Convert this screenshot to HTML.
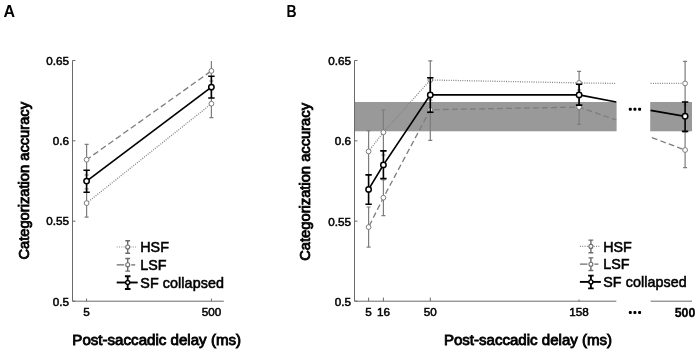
<!DOCTYPE html>
<html><head><meta charset="utf-8"><title>Figure</title>
<style>
html,body{margin:0;padding:0;background:#fff;}
body{width:700px;height:354px;overflow:hidden;font-family:"Liberation Sans",sans-serif;}
svg{display:block;will-change:transform;}
text{font-family:"Liberation Sans",sans-serif;fill:#000;}
.tk{font-size:11.7px;stroke:#000;stroke-width:0.5px;}
.lg{font-size:14.3px;stroke:#000;stroke-width:0.55px;}
.ax{font-size:14.1px;stroke:#000;stroke-width:0.8px;}
.pn{font-size:17.2px;font-weight:bold;}
</style></head><body>
<svg width="700" height="354" viewBox="0 0 700 354">
<rect width="700" height="354" fill="#fff"/>

<text class="pn" transform="translate(3.6 16.8) scale(0.93 1)">A</text>
<path d="M72.5 60.5V301.2H223.8" stroke="#6a6a6a" stroke-width="1" fill="none"/>
<path d="M72.5 60.50H75.5" stroke="#6a6a6a" stroke-width="1"/>
<text class="tk" x="69" y="64.6" text-anchor="end">0.65</text>
<path d="M72.5 140.83H75.5" stroke="#6a6a6a" stroke-width="1"/>
<text class="tk" x="69" y="144.9" text-anchor="end">0.6</text>
<path d="M72.5 221.17H75.5" stroke="#6a6a6a" stroke-width="1"/>
<text class="tk" x="69" y="225.3" text-anchor="end">0.55</text>
<path d="M72.5 301.20H75.5" stroke="#6a6a6a" stroke-width="1"/>
<text class="tk" x="69" y="305.6" text-anchor="end">0.5</text>
<path d="M86.6 301.2V298.6" stroke="#6a6a6a" stroke-width="1"/>
<text class="tk" x="86.6" y="316" text-anchor="middle">5</text>
<path d="M211.4 301.2V298.6" stroke="#6a6a6a" stroke-width="1"/>
<text class="tk" x="211.4" y="316" text-anchor="middle">500</text>
<text class="ax" transform="translate(28.8 259.6) rotate(-90)" textLength="157.6" lengthAdjust="spacingAndGlyphs">Categorization accuracy</text>
<text class="ax" x="72.3" y="345.3" textLength="168.8" lengthAdjust="spacingAndGlyphs">Post-saccadic delay (ms)</text>
<path d="M86.6 203.1L211.4 103.7" stroke="#858585" stroke-width="1.3" stroke-dasharray="1 1.3" fill="none"/>
<path d="M86.6 159.7L211.4 70.9" stroke="#7d7d7d" stroke-width="1.3" stroke-dasharray="6 3.2" stroke-dashoffset="0.9" fill="none"/>
<path d="M86.6 189.0V217.1M84.6 189.0H88.6M84.6 217.1H88.6" stroke="#7d7d7d" stroke-width="1.2" fill="none"/>
<path d="M86.6 144.3V175.0M84.6 144.3H88.6M84.6 175.0H88.6" stroke="#7d7d7d" stroke-width="1.2" fill="none"/>
<path d="M211.4 90.0V117.7M209.4 90.0H213.4M209.4 117.7H213.4" stroke="#7d7d7d" stroke-width="1.2" fill="none"/>
<path d="M211.4 60.9V81.0M209.4 81.0H213.4" stroke="#7d7d7d" stroke-width="1.2" fill="none"/>
<circle cx="86.6" cy="203.1" r="2.4" fill="#fff" stroke="#7d7d7d" stroke-width="1"/>
<circle cx="86.6" cy="159.7" r="2.4" fill="#fff" stroke="#7d7d7d" stroke-width="1"/>
<circle cx="211.4" cy="103.7" r="2.4" fill="#fff" stroke="#7d7d7d" stroke-width="1"/>
<circle cx="211.4" cy="70.9" r="2.4" fill="#fff" stroke="#7d7d7d" stroke-width="1"/>
<path d="M86.6 181.1L211.4 87.1" stroke="#000" stroke-width="1.7" fill="none"/>
<path d="M86.6 170.3V192.3M83.39999999999999 170.3H89.8M83.39999999999999 192.3H89.8" stroke="#000" stroke-width="1.6" fill="none"/>
<circle cx="86.6" cy="181.1" r="2.7" fill="#fff" stroke="#000" stroke-width="1.5"/>
<path d="M211.4 76.3V98.0M208.20000000000002 76.3H214.6M208.20000000000002 98.0H214.6" stroke="#000" stroke-width="1.6" fill="none"/>
<circle cx="211.4" cy="87.1" r="2.7" fill="#fff" stroke="#000" stroke-width="1.5"/>
<path d="M116.7 247.0H137.2" stroke="#8a8a8a" stroke-width="1.2" stroke-dasharray="1 1.3"/>
<path d="M127.7 240.7V253.3M125.3 240.7H130.1M125.3 253.3H130.1" stroke="#6c6c6c" stroke-width="1.4" fill="none"/>
<circle cx="127.7" cy="247.0" r="2.0" fill="#fff" stroke="#6c6c6c" stroke-width="1.1"/>
<path d="M116.7 264.8H124.2M131.2 264.8H135.2" stroke="#6c6c6c" stroke-width="1.3"/>
<path d="M127.7 258.5V271.1M125.3 258.5H130.1M125.3 271.1H130.1" stroke="#6c6c6c" stroke-width="1.4" fill="none"/>
<circle cx="127.7" cy="264.8" r="2.0" fill="#fff" stroke="#6c6c6c" stroke-width="1.1"/>
<path d="M116.7 282.5H137.7" stroke="#000" stroke-width="1.9"/>
<path d="M127.7 276.2V289.0M124.9 276.2H130.5M124.9 289.0H130.5" stroke="#000" stroke-width="1.9" fill="none"/>
<circle cx="127.7" cy="282.5" r="2.0" fill="#fff" stroke="#000" stroke-width="1.4"/>
<text class="lg" x="140.3" y="252.2">HSF</text>
<text class="lg" x="140.3" y="270.0">LSF</text>
<text class="lg" x="140.3" y="287.7" textLength="83.6" lengthAdjust="spacing">SF collapsed</text>
<text class="pn" transform="translate(286.5 16.8) scale(0.81 1)">B</text>
<rect x="355" y="102" width="261.6" height="29.3" fill="#999"/>
<rect x="650.2" y="102" width="41.8" height="29.3" fill="#999"/>
<path d="M354.5 60.5V301.2H616.3M650.6 301.2H692" stroke="#6a6a6a" stroke-width="1" fill="none"/>
<path d="M354.5 60.50H357.5" stroke="#6a6a6a" stroke-width="1"/>
<text class="tk" x="351" y="65.0" text-anchor="end">0.65</text>
<path d="M354.5 140.83H357.5" stroke="#6a6a6a" stroke-width="1"/>
<text class="tk" x="351" y="145.3" text-anchor="end">0.6</text>
<path d="M354.5 221.17H357.5" stroke="#6a6a6a" stroke-width="1"/>
<text class="tk" x="351" y="225.7" text-anchor="end">0.55</text>
<path d="M354.5 301.20H357.5" stroke="#6a6a6a" stroke-width="1"/>
<text class="tk" x="351" y="306.0" text-anchor="end">0.5</text>
<path d="M368.6 301.2V297.6" stroke="#6a6a6a" stroke-width="1"/>
<text class="tk" x="368.6" y="316" text-anchor="middle">5</text>
<path d="M383.4 301.2V297.6" stroke="#6a6a6a" stroke-width="1"/>
<text class="tk" x="383.4" y="316" text-anchor="middle">16</text>
<path d="M430.3 301.2V297.6" stroke="#6a6a6a" stroke-width="1"/>
<text class="tk" x="430.3" y="316" text-anchor="middle">50</text>
<path d="M579.1 301.2V299.6" stroke="#6a6a6a" stroke-width="1"/>
<text class="tk" x="579.1" y="316" text-anchor="middle">158</text>
<text x="674.7" y="317.2" textLength="20.6" lengthAdjust="spacingAndGlyphs" style="font-size:12.8px;font-weight:bold;stroke:#000;stroke-width:0.3px">500</text>
<text class="ax" transform="translate(310.1 260.8) rotate(-90)" textLength="157.8" lengthAdjust="spacingAndGlyphs">Categorization accuracy</text>
<text class="ax" x="443.9" y="345.4" textLength="168.2" lengthAdjust="spacingAndGlyphs">Post-saccadic delay (ms)</text>
<rect x="628.8" y="107.7" width="3" height="3" rx="1" fill="#000"/>
<rect x="633.4" y="107.7" width="3" height="3" rx="1" fill="#000"/>
<rect x="638.1" y="107.7" width="3" height="3" rx="1" fill="#000"/>
<rect x="628.8" y="311.0" width="3" height="3" rx="1" fill="#000"/>
<rect x="633.4" y="311.0" width="3" height="3" rx="1" fill="#000"/>
<rect x="638.1" y="311.0" width="3" height="3" rx="1" fill="#000"/>
<path d="M368.6 151.4L383.4 132.3L430.3 80L579.1 82.9L616.3 83.4M650.6 83.4L685.1 83.4" stroke="#858585" stroke-width="1.3" stroke-dasharray="1 1.3" fill="none"/>
<path d="M368.6 227.1L383.4 197.7L430.3 109.7L579.1 107.1L616.3 120M650.6 137.1L685.1 150" stroke="#7d7d7d" stroke-width="1.3" stroke-dasharray="5.8 3.2" stroke-dashoffset="7.6" fill="none"/>
<path d="M368.6 130.6V174.9M366.6 130.6H370.6M366.6 174.9H370.6" stroke="#7d7d7d" stroke-width="1.2" fill="none"/>
<path d="M368.6 207.0V247.1M366.6 207.0H370.6M366.6 247.1H370.6" stroke="#7d7d7d" stroke-width="1.2" fill="none"/>
<path d="M383.4 110.0V155.0M381.4 110.0H385.4M381.4 155.0H385.4" stroke="#7d7d7d" stroke-width="1.2" fill="none"/>
<path d="M383.4 180.0V215.7M381.4 180.0H385.4M381.4 215.7H385.4" stroke="#7d7d7d" stroke-width="1.2" fill="none"/>
<path d="M430.3 60.9V100.0M428.3 60.9H432.3M428.3 100.0H432.3" stroke="#7d7d7d" stroke-width="1.2" fill="none"/>
<path d="M430.3 79.0V140.3M428.3 79.0H432.3M428.3 140.3H432.3" stroke="#7d7d7d" stroke-width="1.2" fill="none"/>
<path d="M579.1 71.4V95.0M577.1 71.4H581.1M577.1 95.0H581.1" stroke="#7d7d7d" stroke-width="1.2" fill="none"/>
<path d="M579.1 90.0V124.3M577.1 90.0H581.1M577.1 124.3H581.1" stroke="#7d7d7d" stroke-width="1.2" fill="none"/>
<path d="M685.1 61.4V105.0M683.1 61.4H687.1M683.1 105.0H687.1" stroke="#7d7d7d" stroke-width="1.2" fill="none"/>
<path d="M685.1 132.0V167.7M683.1 132.0H687.1M683.1 167.7H687.1" stroke="#7d7d7d" stroke-width="1.2" fill="none"/>
<circle cx="368.6" cy="151.4" r="2.4" fill="#fff" stroke="#7d7d7d" stroke-width="1"/>
<circle cx="368.6" cy="227.1" r="2.4" fill="#fff" stroke="#7d7d7d" stroke-width="1"/>
<circle cx="383.4" cy="132.3" r="2.4" fill="#fff" stroke="#7d7d7d" stroke-width="1"/>
<circle cx="383.4" cy="197.7" r="2.4" fill="#fff" stroke="#7d7d7d" stroke-width="1"/>
<circle cx="430.3" cy="80.0" r="2.4" fill="#fff" stroke="#7d7d7d" stroke-width="1"/>
<circle cx="430.3" cy="109.7" r="2.4" fill="#fff" stroke="#7d7d7d" stroke-width="1"/>
<circle cx="579.1" cy="82.9" r="2.4" fill="#fff" stroke="#7d7d7d" stroke-width="1"/>
<circle cx="579.1" cy="107.1" r="2.4" fill="#fff" stroke="#7d7d7d" stroke-width="1"/>
<circle cx="685.1" cy="83.4" r="2.4" fill="#fff" stroke="#7d7d7d" stroke-width="1"/>
<circle cx="685.1" cy="150.0" r="2.4" fill="#fff" stroke="#7d7d7d" stroke-width="1"/>
<path d="M368.6 189.4L383.4 164.9L430.3 94.9L579.1 94.9L616.3 102M650.6 110.3L685.1 116.3" stroke="#000" stroke-width="1.7" fill="none"/>
<path d="M368.6 174.9V204.3M365.40000000000003 174.9H371.8M365.40000000000003 204.3H371.8" stroke="#000" stroke-width="1.6" fill="none"/>
<circle cx="368.6" cy="189.4" r="2.7" fill="#fff" stroke="#000" stroke-width="1.5"/>
<path d="M383.4 150.9V178.6M380.2 150.9H386.59999999999997M380.2 178.6H386.59999999999997" stroke="#000" stroke-width="1.6" fill="none"/>
<circle cx="383.4" cy="164.9" r="2.7" fill="#fff" stroke="#000" stroke-width="1.5"/>
<path d="M430.3 77.7V112.3M427.1 77.7H433.5M427.1 112.3H433.5" stroke="#000" stroke-width="1.6" fill="none"/>
<circle cx="430.3" cy="94.9" r="2.7" fill="#fff" stroke="#000" stroke-width="1.5"/>
<path d="M579.1 84.3V105.1M575.9 84.3H582.3000000000001M575.9 105.1H582.3000000000001" stroke="#000" stroke-width="1.6" fill="none"/>
<circle cx="579.1" cy="94.9" r="2.7" fill="#fff" stroke="#000" stroke-width="1.5"/>
<path d="M685.1 102.0V131.4M681.9 102.0H688.3000000000001M681.9 131.4H688.3000000000001" stroke="#000" stroke-width="1.6" fill="none"/>
<circle cx="685.1" cy="116.3" r="2.7" fill="#fff" stroke="#000" stroke-width="1.5"/>
<path d="M579.9 246.4H600.4" stroke="#8a8a8a" stroke-width="1.2" stroke-dasharray="1 1.3"/>
<path d="M590.9 240.1V252.7M588.5 240.1H593.3M588.5 252.7H593.3" stroke="#6c6c6c" stroke-width="1.4" fill="none"/>
<circle cx="590.9" cy="246.4" r="2.0" fill="#fff" stroke="#6c6c6c" stroke-width="1.1"/>
<path d="M579.9 264.2H587.4M594.4 264.2H598.4" stroke="#6c6c6c" stroke-width="1.3"/>
<path d="M590.9 257.9V270.5M588.5 257.9H593.3M588.5 270.5H593.3" stroke="#6c6c6c" stroke-width="1.4" fill="none"/>
<circle cx="590.9" cy="264.2" r="2.0" fill="#fff" stroke="#6c6c6c" stroke-width="1.1"/>
<path d="M579.9 281.9H600.9" stroke="#000" stroke-width="1.9"/>
<path d="M590.9 275.6V288.4M588.1 275.6H593.6999999999999M588.1 288.4H593.6999999999999" stroke="#000" stroke-width="1.9" fill="none"/>
<circle cx="590.9" cy="281.9" r="2.0" fill="#fff" stroke="#000" stroke-width="1.4"/>
<text class="lg" x="603.1999999999999" y="251.6">HSF</text>
<text class="lg" x="603.1999999999999" y="269.4">LSF</text>
<text class="lg" x="603.1999999999999" y="287.1" textLength="83.6" lengthAdjust="spacing">SF collapsed</text>
</svg></body></html>
